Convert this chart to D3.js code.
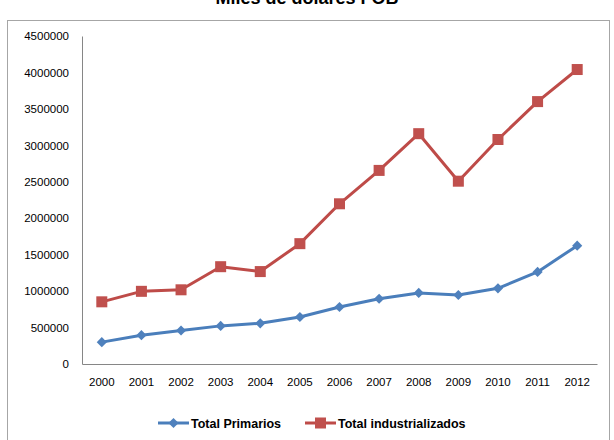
<!DOCTYPE html>
<html>
<head>
<meta charset="utf-8">
<script src="https://cdn.jsdelivr.net/npm/d3@7"></script>
<style>
  body { margin: 0; background: #fff; }
  svg { display: block; font-family: "Liberation Sans", Arial, sans-serif; }
</style>
</head>
<body>
<div id="chart"></div>
<script>
// years and series values (miles de dolares FOB)
var years = ["2000", "2001", "2002", "2003", "2004", "2005", "2006",
             "2007", "2008", "2009", "2010", "2011", "2012"];
var primarios = [300000, 395000, 460000, 523000, 558000, 645000, 782000,
                 895000, 975000, 947000, 1038000, 1263000, 1624000];
var industrializados = [853000, 997000, 1018000, 1335000, 1268000, 1651000, 2198000,
                        2656000, 3160000, 2508000, 3080000, 3600000, 4040000];
var yTicks = [0, 500000, 1000000, 1500000, 2000000, 2500000, 3000000, 3500000, 4000000, 4500000];
var seriesNames = ["Total Primarios", "Total industrializados"];

var svgWidth = 614;
var svgHeight = 440;

var margin = { top: 36, right: 17, bottom: 76, left: 82 };
var width = svgWidth - margin.left - margin.right;
var height = svgHeight - margin.top - margin.bottom;

var blue = "#4A7EBB";
var red = "#BE4B48";

var svg = d3.select("#chart")
  .append("svg")
  .attr("width", svgWidth)
  .attr("height", svgHeight);

// outer chart frame
svg.append("rect")
  .attr("x", 7.5)
  .attr("y", 20.5)
  .attr("width", 602)
  .attr("height", 430)
  .attr("fill", "none")
  .attr("stroke", "#a6a6a6")
  .attr("stroke-width", 1);

// title (cut off at top, like the reference)
svg.append("text")
  .attr("x", 307)
  .attr("y", 4)
  .attr("text-anchor", "middle")
  .attr("font-size", "18px")
  .attr("font-weight", "bold")
  .text("Miles de dólares FOB");

var chartGroup = svg.append("g")
  .attr("transform", `translate(${margin.left}, ${margin.top})`);

var xScale = d3.scaleBand()
  .domain(years)
  .range([0, width]);

var yScale = d3.scaleLinear()
  .domain([0, 4500000])
  .range([height, 0]);

var bottomAxis = d3.axisBottom(xScale).tickSize(0).tickPadding(14);
var leftAxis = d3.axisLeft(yScale).tickValues(yTicks).tickSize(0).tickPadding(13)
  .tickFormat(d3.format("d"));

var gx = chartGroup.append("g")
  .attr("transform", `translate(0, ${height})`)
  .call(bottomAxis);

var gy = chartGroup.append("g")
  .call(leftAxis);

[gx, gy].forEach(function(g) {
  g.select(".domain").attr("stroke", "#868686");
  g.selectAll("text")
    .attr("font-family", "'Liberation Sans', Arial, sans-serif")
    .attr("font-size", "11.5px")
    .attr("fill", "#000");
});

var cx = d => xScale(d) + xScale.bandwidth() / 2;

var line = d3.line()
  .x((d, i) => cx(years[i]))
  .y(d => yScale(d));

// red series
chartGroup.append("path")
  .datum(industrializados)
  .attr("d", line)
  .attr("fill", "none")
  .attr("stroke", red)
  .attr("stroke-width", 3)
  .attr("stroke-linejoin", "round");

chartGroup.selectAll(".sq")
  .data(industrializados)
  .enter()
  .append("rect")
  .attr("class", "sq")
  .attr("x", (d, i) => cx(years[i]) - 5.5)
  .attr("y", d => yScale(d) - 5.5)
  .attr("width", 11)
  .attr("height", 11)
  .attr("fill", "#C0504D");

// blue series
chartGroup.append("path")
  .datum(primarios)
  .attr("d", line)
  .attr("fill", "none")
  .attr("stroke", blue)
  .attr("stroke-width", 3)
  .attr("stroke-linejoin", "round");

var diamond = d3.symbol().type(d3.symbolDiamond2).size(66);

chartGroup.selectAll(".dm")
  .data(primarios)
  .enter()
  .append("path")
  .attr("class", "dm")
  .attr("d", diamond)
  .attr("transform", (d, i) => `translate(${cx(years[i])}, ${yScale(d)})`)
  .attr("fill", "#4F81BD");

// legend
var legendY = 423;
var legendItems = [
  { name: seriesNames[0], x: 158, color: blue, mark: "diamond" },
  { name: seriesNames[1], x: 305, color: red, mark: "square" }
];

legendItems.forEach(function(item) {
  var g = svg.append("g");
  g.append("line")
    .attr("x1", item.x)
    .attr("x2", item.x + 31)
    .attr("y1", legendY)
    .attr("y2", legendY)
    .attr("stroke", item.color)
    .attr("stroke-width", 3);
  if (item.mark == "diamond") {
    g.append("path")
      .attr("d", diamond)
      .attr("transform", `translate(${item.x + 15.5}, ${legendY})`)
      .attr("fill", "#4F81BD");
  } else {
    g.append("rect")
      .attr("x", item.x + 15.5 - 5.5)
      .attr("y", legendY - 5.5)
      .attr("width", 11)
      .attr("height", 11)
      .attr("fill", "#C0504D");
  }
  g.append("text")
    .attr("x", item.x + 33)
    .attr("y", legendY + 4.5)
    .attr("font-size", "12.5px")
    .attr("font-weight", "bold")
    .text(item.name);
});
</script>
</body>
</html>
